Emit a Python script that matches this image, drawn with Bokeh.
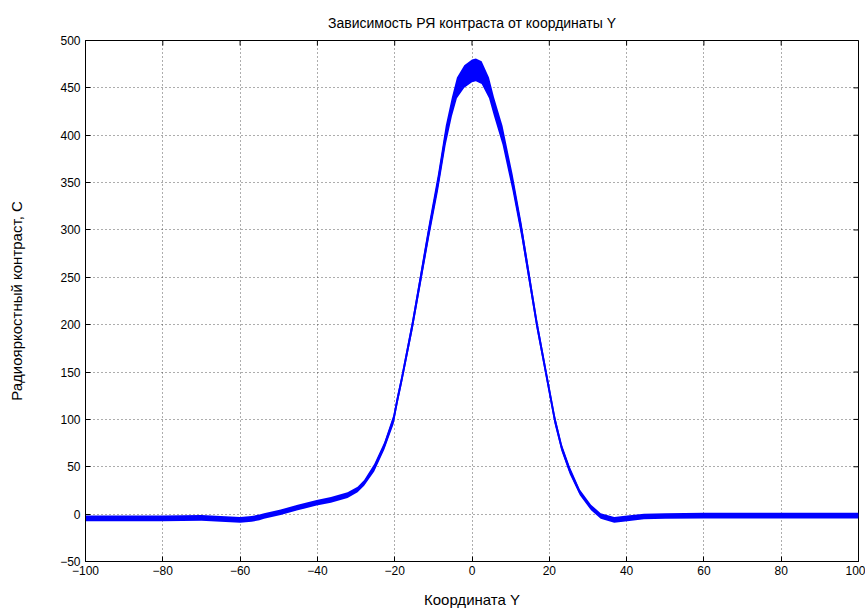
import math
from bokeh.plotting import figure
from bokeh.models import Range1d, FixedTicker, ColumnDataSource
from bokeh.embed import file_html
from bokeh.resources import INLINE

# ---- data ----
coord_y = [-100, -90, -80, -70, -65, -60, -57, -55, -53.8, -49.5, -45.1, -40.2,
           -36.5, -32.2, -29.6, -27.9, -25.3, -22.7, -20.3, -19.3, -18.2, -15.4,
           -13.25, -11.1, -8.8, -6.8, -5.2, -3.9, -2.0, 0.0, 1.0, 2.5, 4.4, 5.7,
           7.9, 10.5, 12.8, 14.8, 16.8, 19.1, 21.4, 23.2, 25.3, 27.9, 30.8, 33.3,
           36.8, 40.2, 44.5, 50, 60, 70, 80, 90, 100]
contrast = [-4.5, -4.5, -4.5, -4, -5, -6, -5, -3.5, -2, 2, 7, 12,
            15, 20, 26, 33, 49, 72, 100, 121, 142, 200,
            250, 300, 350, 400, 430, 450, 462, 468, 469, 466, 450, 430,
            400, 350, 300, 250, 200, 150, 100, 70, 46, 23, 7, -2,
            -6, -4.5, -2.5, -2, -1.5, -1.5, -1.5, -1.5, -1.5]
noise_half = [3, 3, 3, 3, 3, 3, 3, 3, 3, 3, 3, 3,
              3, 3, 3, 3, 4, 4, 5, 5, 5, 6,
              7, 8, 9, 10, 10, 11, 12, 12, 12, 12, 11, 10,
              10, 9, 8, 7, 6, 5, 5, 4, 4, 3, 3, 3,
              3, 3, 3, 3, 3, 3, 3, 3, 3]
x_ticks = [-100, -80, -60, -40, -20, 0, 20, 40, 60, 80, 100]
y_ticks = [-50, 0, 50, 100, 150, 200, 250, 300, 350, 400, 450, 500]

title_text = "Зависимость РЯ контраста от координаты Y"
x_label = "Координата Y"
y_label = "Радиояркостный контраст, С"

lower = [c - h for c, h in zip(contrast, noise_half)]
upper = [c + h for c, h in zip(contrast, noise_half)]
src = ColumnDataSource(dict(x=coord_y, y=contrast, lo=lower, hi=upper))

X_MIN, X_MAX = x_ticks[0], x_ticks[-1]
Y_MIN, Y_MAX = y_ticks[0], y_ticks[-1]

FONT = "Liberation Sans"

p = figure(width=865, height=610, output_backend="svg", toolbar_location=None,
           x_range=Range1d(X_MIN, X_MAX), y_range=Range1d(Y_MIN, Y_MAX),
           min_border_left=85, min_border_right=7, min_border_top=40,
           min_border_bottom=46, background_fill_color="white",
           border_fill_color="white")

p.title.text = title_text
p.title.align = "center"
p.title.vertical_align = "top"
p.title.text_font = FONT
p.title.text_font_size = "14px"
p.title.text_font_style = "normal"
p.title.text_color = "black"
p.title.standoff = 16

p.outline_line_color = "black"
p.outline_line_width = 1

# grid
for g, t in ((p.xgrid, x_ticks), (p.ygrid, y_ticks)):
    g.ticker = FixedTicker(ticks=t)
    g.grid_line_color = "#333333"
    g.grid_line_dash = "1 3"
    g.grid_line_width = 1
    g.grid_line_alpha = 0.8

def style_axis(ax, ticks):
    ax.ticker = FixedTicker(ticks=ticks)
    ax.axis_line_color = "black"
    ax.major_tick_line_color = "black"
    ax.major_tick_in = 5
    ax.major_tick_out = 0
    ax.minor_tick_line_color = None
    ax.major_label_text_font = FONT
    ax.major_label_text_color = "black"
    ax.major_label_text_font_size = "12px"
    ax.axis_label_text_font = FONT
    ax.axis_label_text_font_size = "15px"
    ax.axis_label_text_font_style = "normal"
    ax.axis_label_text_color = "black"

xb = p.below[0]
yl = p.left[0]
style_axis(xb, x_ticks)
style_axis(yl, y_ticks)
xb.major_label_standoff = 4
yl.major_label_standoff = 5
xb.axis_label = x_label
xb.axis_label_standoff = 13
yl.axis_label = y_label
yl.axis_label_standoff = 32

# inward ticks on the top and right edges of the box (MATLAB "box on")
p.scatter(x=x_ticks, y=[Y_MAX] * len(x_ticks), marker="dash", size=10,
          angle=math.pi / 2, line_color="black", line_width=1)
p.scatter(x=[X_MAX] * len(y_ticks), y=y_ticks, marker="dash", size=10,
          line_color="black", line_width=1)

p.varea(x="x", y1="lo", y2="hi", source=src, fill_color="#0000ff", fill_alpha=1.0)
p.line(x="x", y="y", source=src, line_color="#0000ff", line_width=2)

open("out.html", "w").write(file_html(p, INLINE))
